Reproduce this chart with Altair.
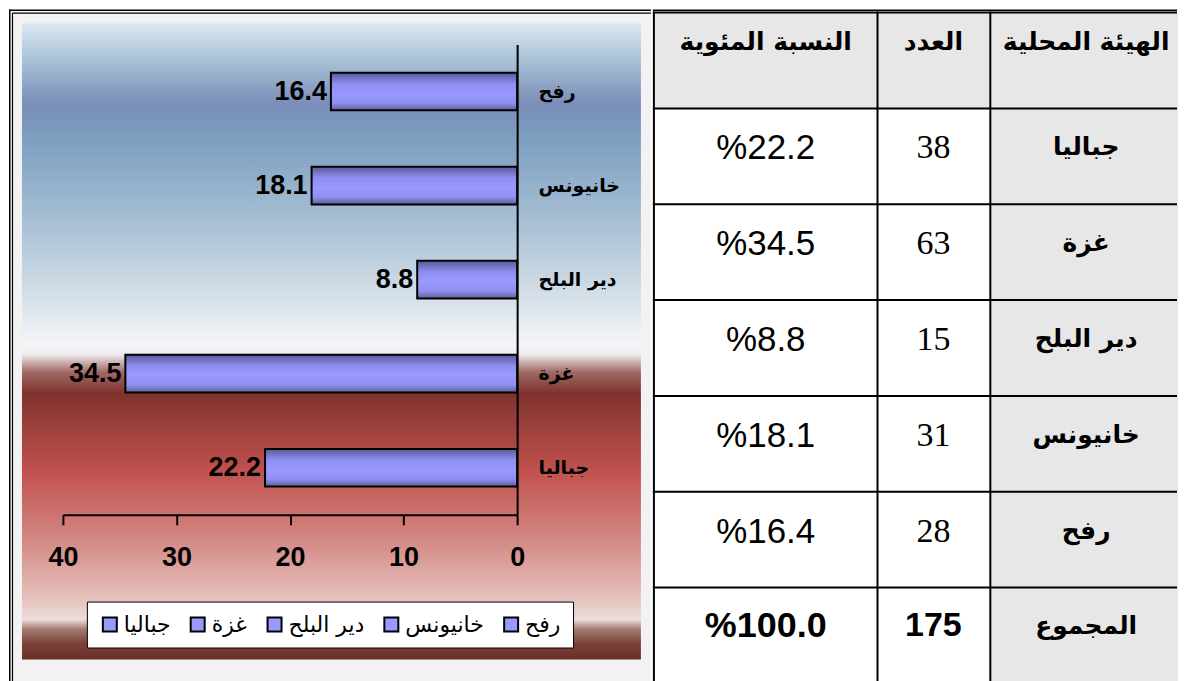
import altair as alt
import pandas as pd

# ---------------- data ----------------
chart_regions = ['رفح', 'خانيونس', 'دير البلح', 'غزة', 'جباليا']   # top -> bottom
chart_shares = [16.4, 18.1, 8.8, 34.5, 22.2]
legend_order = ['جباليا', 'غزة', 'دير البلح', 'خانيونس', 'رفح']
x_ticks = [0, 10, 20, 30, 40]

table_headers = ['الهيئة المحلية', 'العدد', 'النسبة المئوية']
table_regions = ['جباليا', 'غزة', 'دير البلح', 'خانيونس', 'رفح']
table_counts = [38, 63, 15, 31, 28]
table_shares = [22.2, 34.5, 8.8, 18.1, 16.4]
total_label = 'المجموع'
total_count = 175
total_share = 100.0

bars = pd.DataFrame({'region': chart_regions, 'share': chart_shares})
bars['label'] = bars['share'].map(lambda v: f'{v:.1f}')
one = pd.DataFrame({'k': [0]})


def grad(stops):
    return {'gradient': 'linear', 'x1': 0, 'y1': 0, 'x2': 0, 'y2': 1,
            'stops': [{'offset': o, 'color': c} for o, c in stops]}


bg_grad = grad([(0, '#dbe7f1'), (0.057, '#a9c2d6'), (0.126, '#7a8eb9'),
                (0.184, '#7e9fc0'), (0.303, '#a4bed3'), (0.408, '#ccd9e4'),
                (0.505, '#f4f6f9'), (0.52, '#f0ecee'), (0.548, '#a06a66'),
                (0.581, '#7f332e'), (0.70, '#c0504d'), (0.805, '#d28480'),
                (0.907, '#e6c4be'), (0.937, '#ecdedb'), (0.952, '#a47c74'),
                (0.975, '#7a4238'), (1, '#6a3028')])
bar_grad = grad([(0, '#5a5a98'), (0.3, '#8f8ff2'), (0.55, '#9999ff'),
                 (0.8, '#9090f0'), (1, '#5e5e9c')])

PW, PH = 455, 471

# ---------------- left panel (bar chart) ----------------
gray = alt.Chart(one).mark_rect(fill='#f2f2f2').encode(
    x=alt.value(-54), x2=alt.value(589), y=alt.value(-35), y2=alt.value(647))


def hline(x1, x2, y, w):
    return alt.Chart(one).mark_rule(color='black', strokeWidth=w).encode(
        x=alt.value(x1), x2=alt.value(x2), y=alt.value(y))


def vline(x, y1, y2, w):
    return alt.Chart(one).mark_rule(color='black', strokeWidth=w).encode(
        x=alt.value(x), y=alt.value(y1), y2=alt.value(y2))


frame = [hline(-54, 589, -34.25, 1.5), vline(-53.25, -35, 647, 1.5),
         hline(-50.5, 589, -31.5, 1.2), vline(-50.5, -31.5, 647, 1.2)]

x_enc = alt.X('share:Q', scale=alt.Scale(domain=[0, 40], reverse=True, nice=False),
              axis=alt.Axis(values=x_ticks, title=None, grid=False, domainColor='black',
                            domainWidth=2, tickColor='black', tickWidth=2, tickSize=10,
                            labelFont='Liberation Sans', labelFontSize=27,
                            labelFontWeight='bold', labelColor='black', labelPadding=20,
                            labelFlush=False, zindex=2))
y_enc = alt.Y('region:N', sort=chart_regions,
              scale=alt.Scale(paddingInner=0.6, paddingOuter=0.3),
              axis=alt.Axis(orient='right', title=None, ticks=False, grid=False,
                            domainColor='black', domainWidth=2, labelAlign='left',
                            labelPadding=21, labelFont='DejaVu Sans',
                            labelFontWeight='bold', labelFontSize=19, labelColor='black',
                            zindex=2))

legend_layer = alt.Chart(bars).mark_square(size=100, stroke='black', strokeWidth=2, opacity=1).encode(
    x=x_enc, y=y_enc,
    color=alt.Color('region:N', sort=legend_order,
                    scale=alt.Scale(domain=legend_order, range=['#9999ff'] * 5),
                    legend=alt.Legend(orient='none', legendX=24, legendY=558,
                                      direction='horizontal', title=None,
                                      symbolType='square', symbolSize=196,
                                      symbolStrokeColor='black', symbolStrokeWidth=2,
                                      labelFont='DejaVu Sans', labelFontSize=22,
                                      labelColor='black', labelOffset=3,
                                      columnPadding=16, padding=12,
                                      fillColor='white', strokeColor='black'))
)

panel = alt.Chart(one).mark_rect(fill=bg_grad).encode(
    x=alt.value(-41), x2=alt.value(579), y=alt.value(-21), y2=alt.value(616))

bar_layer = alt.Chart(bars).mark_bar(fill=bar_grad, stroke='black', strokeWidth=2).encode(
    x=x_enc, y=y_enc)

value_labels = alt.Chart(bars).mark_text(
    align='right', baseline='middle', dx=-4, font='Liberation Sans',
    fontSize=27, fontWeight='bold', color='black').encode(
    x=x_enc, y=y_enc, text='label:N')

left = alt.layer(gray, legend_layer, panel, *frame, bar_layer, value_labels).properties(
    width=PW, height=PH)

# ---------------- right panel (table) ----------------
rows = [{'pos': 0, 'name': table_headers[0], 'count': table_headers[1], 'share': table_headers[2]}]
for i, (n, c, s) in enumerate(zip(table_regions, table_counts, table_shares)):
    rows.append({'pos': i + 1, 'name': n, 'count': str(c), 'share': f'%{s:.1f}'})
rows.append({'pos': 6, 'name': total_label, 'count': str(total_count),
             'share': f'%{total_share:.1f}'})
tdf = pd.DataFrame(rows)

TW = 526
row_scale = alt.Scale(domain=list(range(7)), range=[-32, 640], paddingInner=0, paddingOuter=0)
yband = alt.Y('pos:O', scale=row_scale, axis=None)
GRAY = '#e7e7e7'
cols = [('share', 1, 225), ('count', 225, 338), ('name', 338, TW)]

cells = []
for field, x1, x2 in cols:
    if field == 'name':
        fill = alt.value(GRAY)
    else:
        fill = alt.condition('datum.pos == 0', alt.value(GRAY), alt.value('white'))
    cells.append(alt.Chart(tdf).mark_rect(strokeWidth=0).encode(
        x=alt.value(x1), x2=alt.value(x2), y=yband, fill=fill))

row_lines = alt.Chart(tdf).mark_rule(color='black', strokeWidth=2).encode(
    x=alt.value(0), x2=alt.value(TW - 1),
    y=alt.Y('pos:O', scale=row_scale, axis=None, bandPosition=0))
col_lines = [vline(x, -33, 660, 2) for x in (1, 225, 338)]


def txt(field, xc, cond, font, size, weight, dy):
    return alt.Chart(tdf).transform_filter(cond).mark_text(
        font=font, fontSize=size, fontWeight=weight, color='black', dy=dy,
        baseline='middle', align='center').encode(
        x=alt.value(xc), y=yband, text=f'{field}:N')


HEAD = 'datum.pos == 0'
BODY = 'datum.pos >= 1 && datum.pos <= 5'
TOT = 'datum.pos == 6'
texts = [
    txt('share', 113, HEAD, 'DejaVu Sans', 25, 'bold', -19),
    txt('count', 281, HEAD, 'DejaVu Sans', 25, 'bold', -19),
    txt('name', 434, HEAD, 'DejaVu Sans', 25, 'bold', -19),
    txt('name', 434, BODY, 'DejaVu Sans', 25, 'bold', -9),
    txt('name', 434, TOT, 'DejaVu Sans', 25, 'bold', -10),
    txt('count', 281, BODY, 'Liberation Serif', 34, 'normal', -8),
    txt('count', 281, TOT, 'Liberation Sans', 34, 'bold', -10),
    txt('share', 113, BODY, 'Liberation Sans', 35, 'normal', -8),
    txt('share', 113, TOT, 'Liberation Sans', 36, 'bold', -10),
]

top_rule = hline(0, TW - 1, -34.25, 1.5)

table = alt.layer(*cells, row_lines, *col_lines, top_rule, *texts).properties(
    width=TW, height=640)

chart = alt.hconcat(left, table, spacing=0).properties(padding=0).configure_view(stroke=None)

chart.save("out.html", embed_options={"renderer": "svg", "actions": False})
